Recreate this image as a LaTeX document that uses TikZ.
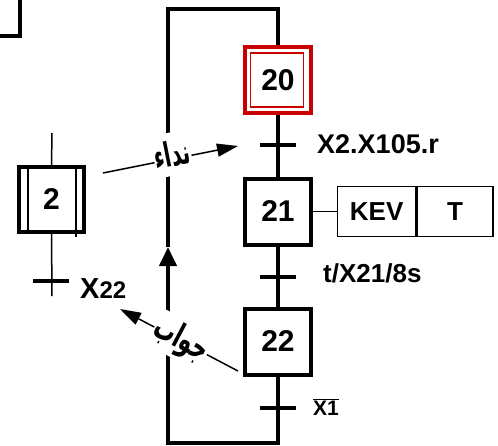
\documentclass[tikz,border=0pt]{standalone}
\usepackage{fontspec}
\setmainfont{Liberation Sans}
\newfontfamily\arabicfont[Script=Arabic]{DejaVu Sans}
\TeXXeTstate=1
\usetikzlibrary{arrows.meta}
\definecolor{stepred}{RGB}{200,0,0}
\begin{document}
\begin{tikzpicture}[x=1pt,y=-1pt,
  thickline/.style={line width=4pt},
  thinline/.style={line width=1.5pt},
  stepbox/.style={draw, line width=4pt, minimum size=66pt, inner sep=0pt,
    font=\fontsize{30}{30}\selectfont\bfseries},
  tick/.style={fill=black, minimum width=36pt, minimum height=4pt, inner sep=0pt},
  actbox/.style={draw, line width=1.3pt, minimum height=50pt, inner sep=0pt,
    font=\fontsize{26}{26}\selectfont\bfseries},
  cond/.style={inner sep=0pt, font=\fontsize{27}{27}\selectfont\bfseries},
  arlbl/.style={fill=white, inner xsep=0.5pt, inner ysep=0pt,
    font=\arabicfont\bfseries\fontsize{27}{27}\selectfont},
  arrowtip/.style={-{Triangle[length=21pt,width=13pt]}}
]
\useasboundingbox (0,0) rectangle (498,445);
% fragment top-left
\coordinate (f1) at (20,0);
\coordinate (f2) at (20,36);
\coordinate (f3) at (0,36);
\draw[thickline] (f1) -- (f2) -- (f3);

% steps
\node[stepbox, draw=stepred] (s20) at (278,80) {20};
\node[draw=stepred, line width=1.2pt, minimum width=53pt, minimum height=54pt] (s20i) at (277,80) {};
\node[stepbox] (s21) at (278,211.5) {21};
\node[stepbox] (s22) at (278,341.5) {22};

% loop
\coordinate (lb1) at (278,443);
\coordinate (lb2) at (168,443);
\coordinate (la) at (168,247);
\coordinate (lt1) at (168,9);
\coordinate (lt2) at (278,9);
\draw[thickline, -{Triangle[length=19pt,width=17pt]}] (s22.south) -- (lb1) -- (lb2) -- (la);
\draw[thickline] (la) -- (lt1) -- (lt2) -- (s20.north);
\draw[thickline] (s20) -- (s21);
\draw[thickline] (s21) -- (s22);

% transitions
\node[tick] (t20) at (278,145) {};
\node[tick] (t21) at (278,277) {};
\node[tick] (t22) at (278,408) {};
\node[cond, anchor=base west] (c20) at (317,153) {X2.X105.r};
\node[cond, anchor=base west, font=\fontsize{26}{26}\selectfont\bfseries] (c21) at (323,282) {t/X21/8s};
\node[cond, anchor=base west, font=\fontsize{21}{21}\selectfont\bfseries] (c22) at (313,415) {$\overline{\hbox{X1}}$};

% action
\node[actbox, minimum width=78pt, anchor=west] (kev) at (337,211.5) {KEV};
\node[actbox, minimum width=76pt, anchor=west] (tt) at (kev.east) {T};
\draw[thinline] (s21.east) -- (kev.west);

% step 2
\node[stepbox, minimum size=65pt] (s2) at (51.5,199.5) {2};
\coordinate (i1a) at (28,165);
\coordinate (i1b) at (28,234);
\coordinate (i2a) at (76,165);
\coordinate (i2b) at (76,237);
\draw[line width=1.2pt] (i1a) -- (i1b);
\draw[line width=1.2pt] (i2a) -- (i2b);
\coordinate (s2top) at (52,133);
\coordinate (s2bot) at (52,296);
\draw[thinline] (s2top) -- (s2.north);
\draw[thinline] (s2.south) -- (s2bot);
\node[tick] (t2) at (51,281) {};
\node[anchor=base west, inner sep=0pt, font=\bfseries] (c2) at (80,298)
  {\fontsize{29}{29}\selectfont X\fontsize{24}{24}\selectfont 22};

% communication arrows
\coordinate (a1s) at (103,173);
\coordinate (a1e) at (238,146);
\draw[thinline, arrowtip] (a1s) -- (a1e);
\coordinate (a2s) at (238,371);
\coordinate (a2e) at (120,309);
\draw[thinline, arrowtip] (a2s) -- (a2e);
\node[arlbl, rotate=11.3, minimum height=43pt] (l1) at (172,154) {\scalebox{0.75}[1.25]{\beginR نداء\endR}};
\node[arlbl, rotate=-27.7, minimum height=40pt] (l2) at (181,340) {\scalebox{0.8}[1.25]{\beginR جواب\endR}};
\end{tikzpicture}
\end{document}
